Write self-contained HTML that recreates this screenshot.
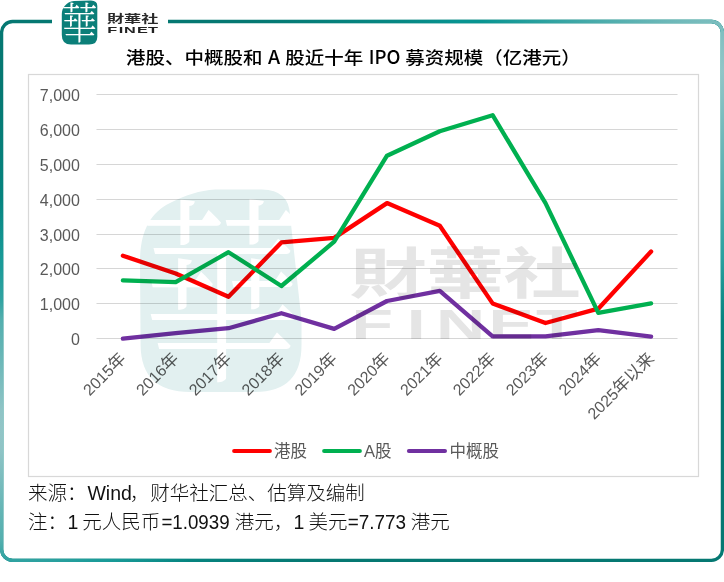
<!DOCTYPE html>
<html><head><meta charset="utf-8">
<style>
html,body{margin:0;padding:0;background:#fff;}
body{width:724px;height:582px;overflow:hidden;position:relative;}
svg{position:absolute;left:0;top:0;}
.cjk{font-family:"Liberation Sans","Noto Sans CJK SC",sans-serif;}
</style></head><body>
<svg width="724" height="582" viewBox="0 0 724 582">
<defs>
  <radialGradient id="tl1" gradientUnits="userSpaceOnUse" cx="0" cy="0" r="1" gradientTransform="translate(724 70) scale(480 330)">
    <stop offset="0" stop-color="#079491"/>
    <stop offset="0.57" stop-color="#079491"/>
    <stop offset="0.68" stop-color="#079491" stop-opacity="0.6"/>
    <stop offset="0.88" stop-color="#079491" stop-opacity="0.2"/>
    <stop offset="1" stop-color="#079491" stop-opacity="0"/>
  </radialGradient>
  <radialGradient id="lt1" gradientUnits="userSpaceOnUse" cx="724" cy="70" r="250">
    <stop offset="0" stop-color="#92c5c7"/>
    <stop offset="0.1" stop-color="#92c5c7" stop-opacity="0.92"/>
    <stop offset="0.5" stop-color="#92c5c7" stop-opacity="0.52"/>
    <stop offset="0.9" stop-color="#92c5c7" stop-opacity="0.1"/>
    <stop offset="1" stop-color="#92c5c7" stop-opacity="0"/>
  </radialGradient>
  <radialGradient id="tl2" gradientUnits="userSpaceOnUse" cx="0" cy="430" r="340">
    <stop offset="0" stop-color="#079491"/>
    <stop offset="0.5" stop-color="#079491"/>
    <stop offset="0.69" stop-color="#079491" stop-opacity="0.4"/>
    <stop offset="1" stop-color="#079491" stop-opacity="0"/>
  </radialGradient>
  <radialGradient id="lt2" gradientUnits="userSpaceOnUse" cx="0" cy="430" r="230">
    <stop offset="0" stop-color="#92c5c7"/>
    <stop offset="0.087" stop-color="#92c5c7" stop-opacity="0.98"/>
    <stop offset="0.35" stop-color="#92c5c7" stop-opacity="0.67"/>
    <stop offset="0.48" stop-color="#92c5c7" stop-opacity="0.55"/>
    <stop offset="0.565" stop-color="#92c5c7" stop-opacity="0.3"/>
    <stop offset="0.7" stop-color="#92c5c7" stop-opacity="0.15"/>
    <stop offset="1" stop-color="#92c5c7" stop-opacity="0"/>
  </radialGradient>
  
</defs>
<!-- frame -->
<g fill="none" stroke-width="3.3">
  <path d="M52,21.5 H12.6 A11,11 0 0 0 1.6,32.5 V549.4 A11,11 0 0 0 12.6,560.4 H711.4 A11,11 0 0 0 722.4,549.4 V32.5 A11,11 0 0 0 711.4,21.5 H168" stroke="#057872"/>
  <path d="M52,21.5 H12.6 A11,11 0 0 0 1.6,32.5 V549.4 A11,11 0 0 0 12.6,560.4 H711.4 A11,11 0 0 0 722.4,549.4 V32.5 A11,11 0 0 0 711.4,21.5 H168" stroke="url(#tl1)"/>
  <path d="M52,21.5 H12.6 A11,11 0 0 0 1.6,32.5 V549.4 A11,11 0 0 0 12.6,560.4 H711.4 A11,11 0 0 0 722.4,549.4 V32.5 A11,11 0 0 0 711.4,21.5 H168" stroke="url(#tl2)"/>
  <path d="M52,21.5 H12.6 A11,11 0 0 0 1.6,32.5 V549.4 A11,11 0 0 0 12.6,560.4 H711.4 A11,11 0 0 0 722.4,549.4 V32.5 A11,11 0 0 0 711.4,21.5 H168" stroke="url(#lt1)"/>
  <path d="M52,21.5 H12.6 A11,11 0 0 0 1.6,32.5 V549.4 A11,11 0 0 0 12.6,560.4 H711.4 A11,11 0 0 0 722.4,549.4 V32.5 A11,11 0 0 0 711.4,21.5 H168" stroke="url(#lt2)"/>
</g>
<!-- small logo -->
<path d="M74,1 L91,0.6 Q97.3,0.8 97.3,6 L97.3,37 Q97.3,44.6 89,44.6 L71,44.6 Q61.8,44.6 61.8,35 L61.8,14 C61.8,8 66,2 74,1 Z" fill="#0b7f79"/>
<g transform="translate(61.8,0.6)">
  <text transform="translate(17.6,38.6) scale(1,1.2)" fill="#fff" font-family="'Noto Serif CJK TC',serif" font-weight="300" font-size="36" text-anchor="middle">華</text>
</g>
<text x="0" y="0" font-size="17.2" font-weight="bold" fill="#2a2a2a" class="cjk" transform="translate(106.9,23.0) scale(1,0.637)">財華社</text>
<text x="0" y="0" font-size="8.8" fill="#222" font-family="'Liberation Sans',sans-serif" font-weight="bold" transform="translate(107.2,32.7) scale(1.85,1)"><tspan x="0">F</tspan><tspan x="6.3">I</tspan><tspan x="9.1">N</tspan><tspan x="16.1">E</tspan><tspan x="22.1">T</tspan></text>
<!-- title -->
<g id="title" font-size="19.5" font-weight="500" fill="#000" class="cjk">
  <text transform="translate(125.9,64.1) scale(1,0.9)">港股、中概股和</text>
  <text transform="translate(268.0,64.1) scale(1.0,0.978)" font-family="'Noto Sans CJK SC',sans-serif">A</text>
  <text transform="translate(285.3,64.1) scale(1,0.9)">股近十年</text>
  <text transform="translate(368.8,64.1) scale(0.95,0.978)" font-family="'Noto Sans CJK SC',sans-serif">IPO</text>
  <text transform="translate(405.3,64.1) scale(1,0.9)">募资规模（亿港元）</text>
</g>
<!-- chart box -->
<rect x="28.5" y="74.5" width="670" height="402" fill="none" stroke="#d8d8d8" stroke-width="1.2"/>
<g stroke="#d6d6d6" stroke-width="1.15"><line x1="96.5" y1="338.50" x2="677.5" y2="338.50"/><line x1="96.5" y1="303.50" x2="677.5" y2="303.50"/><line x1="96.5" y1="268.50" x2="677.5" y2="268.50"/><line x1="96.5" y1="234.50" x2="677.5" y2="234.50"/><line x1="96.5" y1="199.50" x2="677.5" y2="199.50"/><line x1="96.5" y1="164.50" x2="677.5" y2="164.50"/><line x1="96.5" y1="129.50" x2="677.5" y2="129.50"/><line x1="96.5" y1="94.50" x2="677.5" y2="94.50"/></g>
<g font-size="16" fill="#595959" text-anchor="end" class="cjk"><text x="79.85" y="344.90">0</text><text x="79.85" y="309.90">1,000</text><text x="79.85" y="274.90">2,000</text><text x="79.85" y="240.90">3,000</text><text x="79.85" y="205.90">4,000</text><text x="79.85" y="170.90">5,000</text><text x="79.85" y="135.90">6,000</text><text x="79.85" y="100.90">7,000</text></g>
<g font-size="16" fill="#595959" text-anchor="end" class="cjk"><text transform="translate(126.9,359.5) rotate(-45)">2015<tspan font-size="16.8">年</tspan></text><text transform="translate(179.7,359.5) rotate(-45)">2016<tspan font-size="16.8">年</tspan></text><text transform="translate(232.5,359.5) rotate(-45)">2017<tspan font-size="16.8">年</tspan></text><text transform="translate(285.4,359.5) rotate(-45)">2018<tspan font-size="16.8">年</tspan></text><text transform="translate(338.2,359.5) rotate(-45)">2019<tspan font-size="16.8">年</tspan></text><text transform="translate(391.0,359.5) rotate(-45)">2020<tspan font-size="16.8">年</tspan></text><text transform="translate(443.8,359.5) rotate(-45)">2021<tspan font-size="16.8">年</tspan></text><text transform="translate(496.6,359.5) rotate(-45)">2022<tspan font-size="16.8">年</tspan></text><text transform="translate(549.5,359.5) rotate(-45)">2023<tspan font-size="16.8">年</tspan></text><text transform="translate(602.3,359.5) rotate(-45)">2024<tspan font-size="16.8">年</tspan></text><text transform="translate(655.1,359.5) rotate(-45)">2025<tspan font-size="16.8">年以来</tspan></text></g>
<!-- data -->
<g fill="none" stroke-width="4.3" stroke-linejoin="round" stroke-linecap="round">
  <polyline points="122.9,255.7 175.7,273.5 228.5,296.8 281.4,242.4 334.2,237.9 387.0,203.1 439.8,225.7 492.6,303.4 545.5,323.0 598.3,308.7 651.1,251.5" stroke="#ff0000"/>
  <polyline points="122.9,280.4 175.7,282.2 228.5,252.2 281.4,286.0 334.2,241.7 387.0,155.7 439.8,131.3 492.6,115.2 545.5,203.1 598.3,312.9 651.1,303.4" stroke="#00b050"/>
  <polyline points="122.9,338.7 175.7,333.2 228.5,328.2 281.4,313.2 334.2,328.9 387.0,301.0 439.8,290.9 492.6,336.4 545.5,336.4 598.3,330.1 651.1,336.6" stroke="#7030a0"/>
</g>
<!-- watermark -->
<g style="mix-blend-mode:multiply">
  <path d="M215,189.5 L262,189.5 Q289,190 290,215 L301.5,320 L301.5,345 Q301.5,392 255,392 L190,392 Q141,392 140.6,345 L140,262 C140,232 150,213 170,203 C185,195 200,190.5 215,189.5 Z" fill="#e2f0f0"/>
  <g transform="translate(140.6,188.6) scale(4.62)">
    <text transform="translate(17.6,38.6) scale(1,1.2)" fill="#fff" font-family="'Noto Serif CJK TC',serif" font-weight="300" font-size="36" text-anchor="middle">華</text>
  </g>
  <text x="0" y="0" font-size="80" font-weight="bold" fill="#e5e5e5" class="cjk" transform="translate(349.6,293.3) scale(0.964,0.682)">財華社</text>
  <text x="0" y="0" font-size="42.5" fill="#e5e5e5" font-family="'Liberation Sans',sans-serif" font-weight="bold" transform="translate(351.6,339) scale(1.6,1)"><tspan x="0">F</tspan><tspan x="34.4">I</tspan><tspan x="52.8">N</tspan><tspan x="85.5">E</tspan><tspan x="115.3">T</tspan></text>
</g>
<!-- legend -->
<g stroke-width="4" stroke-linecap="round">
  <line x1="234.1" y1="450.9" x2="269.9" y2="450.9" stroke="#ff0000"/>
  <line x1="324.1" y1="450.9" x2="359.9" y2="450.9" stroke="#00b050"/>
  <line x1="408.9" y1="450.9" x2="445" y2="450.9" stroke="#7030a0"/>
</g>
<g font-size="16.5" fill="#595959" class="cjk">
  <text x="274" y="457">港股</text>
  <text x="363.9" y="457">A股</text>
  <text x="449.5" y="457">中概股</text>
</g>
<!-- footer -->
<g font-size="19.5" font-weight="300" fill="#111" class="cjk">
  <text x="28.1" y="500">来源：</text>
  <text x="87.4" y="500">Wind</text>
  <text x="129.7" y="500">，</text>
  <text x="150.3" y="500">财华社汇总、估算及编制</text>
  <text x="28.0" y="528.8">注：</text>
  <text x="67.5" y="528.8">1</text>
  <text x="82.3" y="528.8">元人民币</text>
  <text transform="translate(161.4,528.8) scale(0.96,1)">=1.0939</text>
  <text x="234.8" y="528.8">港元，</text>
  <text x="293.4" y="528.8">1</text>
  <text x="308.6" y="528.8">美元</text>
  <text transform="translate(347.8,528.8) scale(0.97,1)">=7.773</text>
  <text x="410.7" y="528.8">港元</text>
</g>
</svg>
</body></html>
